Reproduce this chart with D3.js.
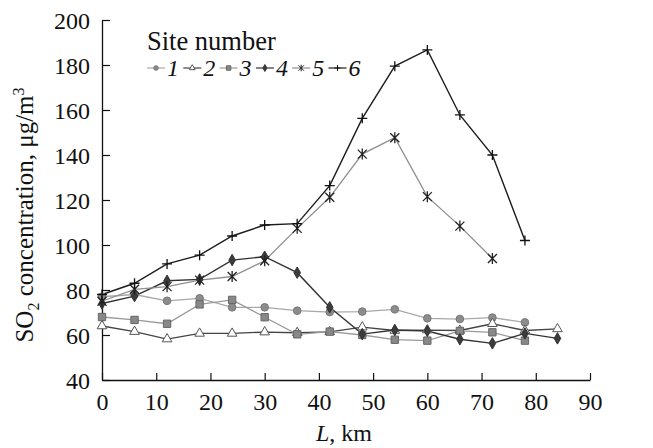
<!DOCTYPE html>
<html>
<head>
<meta charset="utf-8">
<script src="https://cdn.jsdelivr.net/npm/d3@7/dist/d3.min.js"></script>
<style>
  body { margin: 0; background: #fff; }
</style>
</head>
<body>
<div id="chart-area"></div>
<script>
// data (distance in km, SO2 in ug/m3)
var distance = [0, 6, 12, 18, 24, 30, 36, 42, 48, 54, 60, 66, 72, 78, 84];
var siteNames = ["1", "2", "3", "4", "5", "6"];
var site1 = [77, 78, 75.2, 76.3, 72.3, 72.3, 70.8, 70.2, 70.4, 71.4, 67.4, 67.1, 67.7, 65.6];
var site2 = [64, 61.5, 58.2, 60.7, 60.7, 61.3, 61, 61.4, 63.5, 62, 62.2, 62, 65, 62, 62.7];
var site3 = [68, 66.7, 65, 73.6, 75.6, 67.9, 60.3, 61.5, 60, 57.9, 57.5, 61.8, 61.2, 57.5];
var site4 = [74, 77.3, 84.1, 84.7, 93.3, 94.8, 87.7, 72.3, 60.4, 62.2, 61.8, 58.1, 56.3, 60.7, 58.5];
var site5 = [75, 80.3, 81.5, 84.4, 86, 93, 107.4, 121.2, 140.4, 147.7, 121.5, 108.4, 94];
var site6 = [78, 83, 91.6, 95.5, 104, 108.9, 109.5, 126.4, 156.3, 179.5, 186.7, 157.8, 140, 102];
var xTicks = [0, 10, 20, 30, 40, 50, 60, 70, 80, 90];
var yTicks = [40, 60, 80, 100, 120, 140, 160, 180, 200];

var serif = "'Liberation Serif', 'Times New Roman', Times, serif";

var margins = { left: 102, right: 63, top: 20, bottom: 68 };
var width = 653 - margins.left - margins.right;
var height = 448 - margins.top - margins.bottom;

var svg = d3.select("#chart-area")
    .append("svg")
    .attr("width", 653)
    .attr("height", 448)
    .attr("font-family", serif);

var g = svg.append("g")
    .attr("transform", "translate(" + margins.left + ", " + margins.top + ")");

var x = d3.scaleLinear().domain([0, 90]).range([0, width]);
var y = d3.scaleLinear().domain([40, 200]).range([height, 0]);

// marker shapes
var plusPath = "M-5,0H5M0,-5V5";
var starPath = "M0,-5.5V5.5M-4.5,-4.5L4.5,4.5M-4.5,4.5L4.5,-4.5";

var series = [
    { name: "1", values: site1, line: "#a8a8a8", lw: 1.3, shape: d3.symbolCircle, size: 46, fill: "#8c8c8c", stroke: "#777" },
    { name: "2", values: site2, line: "#444", lw: 1.3, shape: d3.symbolTriangle, size: 40, fill: "#fff", stroke: "#555" },
    { name: "3", values: site3, line: "#9a9a9a", lw: 1.3, shape: d3.symbolSquare, size: 54, fill: "#888", stroke: "#666" },
    { name: "4", values: site4, line: "#333", lw: 1.4, shape: d3.symbolDiamond, size: 38, fill: "#3c3c3c", stroke: "#333" },
    { name: "5", values: site5, line: "#8f8f8f", lw: 1.3, path: starPath, stroke: "#222" },
    { name: "6", values: site6, line: "#1c1c1c", lw: 1.4, path: plusPath, stroke: "#111" }
];

function markerPath(s, scale) {
    if (s.path) {
        if (!scale || scale === 1) return s.path;
        return s.path.replace(/-?\d+(\.\d+)?/g, function(n) { return (+n * scale).toString(); });
    }
    return d3.symbol().type(s.shape).size(s.size * (scale ? scale * scale : 1))();
}

// axes
var xAxisCall = d3.axisBottom(x).tickValues(xTicks).tickSizeInner(-7).tickSizeOuter(0).tickPadding(13);
var xAxis = g.append("g")
    .attr("class", "x axis")
    .attr("transform", "translate(0, " + height + ")")
    .call(xAxisCall);
var yAxisCall = d3.axisLeft(y).tickValues(yTicks).tickSizeInner(-8).tickSizeOuter(0).tickPadding(12);
var yAxis = g.append("g")
    .attr("class", "y axis")
    .call(yAxisCall);
[xAxis, yAxis].forEach(function(a) {
    a.attr("font-family", serif);
    a.select(".domain").attr("stroke", "#111").attr("stroke-width", 1.3);
    a.selectAll(".tick line").attr("stroke", "#111").attr("stroke-width", 1.2);
    a.selectAll("text").attr("font-size", "24px").attr("fill", "#111");
});
yAxis.selectAll("text").attr("dy", "0.34em");

// lines and markers
var line = d3.line()
    .x(function(d, i) { return x(distance[i]); })
    .y(function(d) { return y(d); });

var plotArea = g.append("g");
series.forEach(function(s) {
    plotArea.append("path")
        .attr("d", line(s.values))
        .attr("fill", "none")
        .attr("stroke", s.line)
        .attr("stroke-width", s.lw);
});
series.forEach(function(s) {
    plotArea.selectAll(null)
        .data(s.values)
        .enter()
        .append("path")
        .attr("transform", function(d, i) { return "translate(" + x(distance[i]) + "," + y(d) + ")"; })
        .attr("d", markerPath(s))
        .attr("fill", s.path ? "none" : s.fill)
        .attr("stroke", s.stroke)
        .attr("stroke-width", s.path ? 1.3 : 1);
});

// axis titles
svg.append("text")
    .attr("x", 344)
    .attr("y", 441)
    .attr("text-anchor", "middle")
    .attr("font-size", "24px")
    .attr("fill", "#111")
    .html('<tspan font-style="italic">L</tspan>, km');

svg.append("text")
    .attr("transform", "translate(33, 215) rotate(-90)")
    .attr("text-anchor", "middle")
    .attr("font-size", "25px")
    .attr("fill", "#111")
    .html('SO<tspan font-size="16px" dy="6">2</tspan><tspan dy="-6"> concentration, μg/m</tspan><tspan font-size="16px" dy="-9">3</tspan>');

// legend
var legend = svg.append("g").attr("transform", "translate(147, 0)");
legend.append("text")
    .attr("x", 0)
    .attr("y", 50)
    .attr("font-size", "26.5px")
    .attr("fill", "#111")
    .text("Site number");

var items = legend.selectAll("g.item")
    .data(series)
    .enter()
    .append("g")
    .attr("class", "item")
    .attr("transform", function(d, i) { return "translate(" + (i * 36.3) + ", 68)"; });
items.append("line")
    .attr("x1", 0).attr("x2", 18)
    .attr("stroke", function(d) { return d.line; })
    .attr("stroke-width", 1.2);
items.append("path")
    .attr("transform", "translate(9, 0)")
    .attr("d", function(d) { return markerPath(d, 0.6); })
    .attr("fill", function(d) { return d.path ? "none" : d.fill; })
    .attr("stroke", function(d) { return d.stroke; })
    .attr("stroke-width", 1);
items.append("text")
    .attr("x", 20)
    .attr("y", 8)
    .attr("font-size", "24px")
    .attr("font-style", "italic")
    .attr("fill", "#111")
    .text(function(d) { return d.name; });
</script>
</body>
</html>
